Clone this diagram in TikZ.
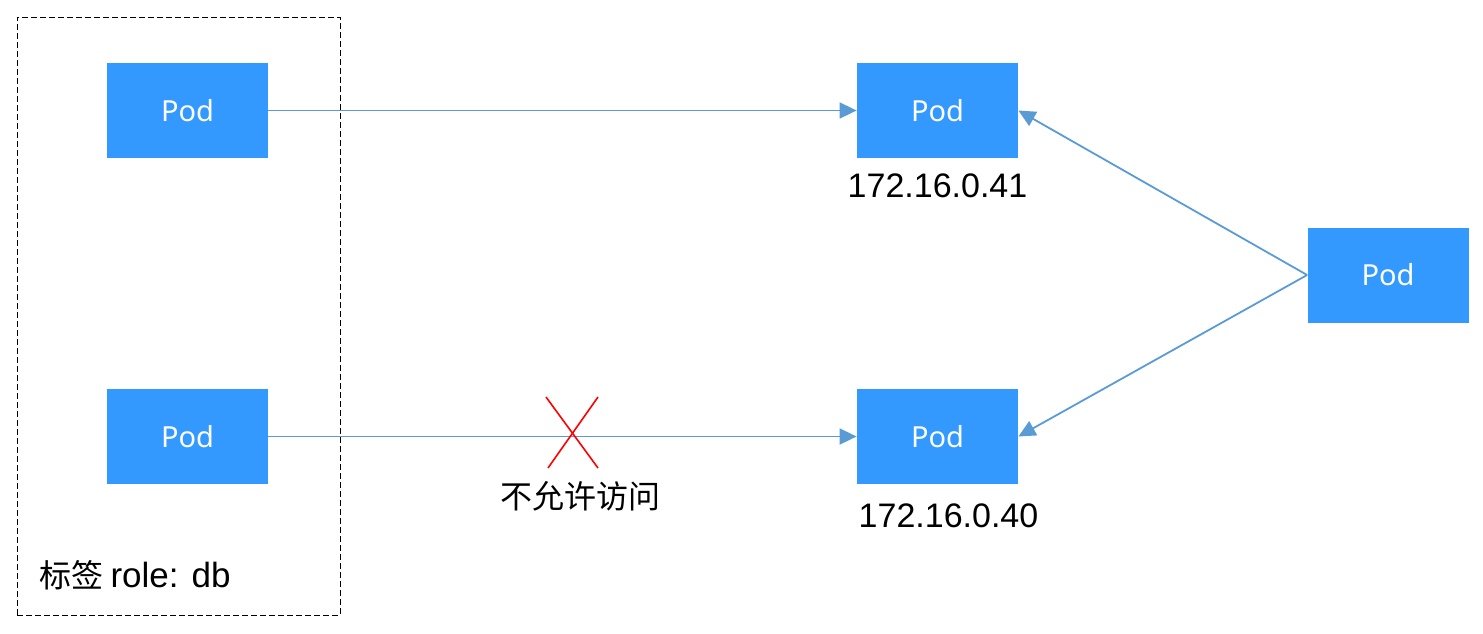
\documentclass[tikz,border=0pt]{standalone}
\usepackage{fontspec}
\setmainfont{Liberation Sans}
\newfontfamily\cjk{Noto Sans CJK SC}
\newfontfamily\podfont{Noto Sans}
\usetikzlibrary{arrows.meta}
\definecolor{podblue}{HTML}{3399FF}
\definecolor{linkblue}{HTML}{5B9BD5}
\tikzset{
  pod/.style={fill=podblue, draw=none, minimum width=80.5pt, minimum height=47.5pt, inner sep=0pt, text=white, font=\podfont\fontsize{14.5}{16}\selectfont},
  link/.style={draw=linkblue, line width=0.9pt, -{Triangle[length=8.5pt,width=8pt]}},
  lbl/.style={font=\fontsize{17}{19}\selectfont, inner sep=0pt},
  cnlbl/.style={font=\cjk\fontsize{16}{18}\selectfont, inner sep=0pt},
}
\begin{document}
\begin{tikzpicture}[x=0.5pt,y=-0.5pt]
\useasboundingbox (0,0) rectangle (1483,633);
\node[draw, dash pattern=on 3pt off 1.5pt, line width=0.5pt, minimum width=161.5pt, minimum height=299pt, inner sep=0pt] (group) at (178.5,316) {};
\node[pod] (a1) at (187.5,110.5) {Pod};
\node[pod] (a2) at (187.5,436.5) {Pod};
\node[pod] (b1) at (937.5,110.5) {Pod};
\node[pod] (b2) at (937.5,436.5) {Pod};
\node[pod] (c) at (1388,275) {Pod};
\node[lbl] (ip1) at (937.5,186) {172.16.0.41};
\node[lbl] (ip2) at (948.5,516) {172.16.0.40};
\node[cnlbl, anchor=west] (tag) at (39,575) {标签 {\fontspec{Liberation Sans}\fontsize{17.5}{19}\selectfont role: db}};
\node[cnlbl] (deny) at (580,496) {不允许访问};
\draw[link] (a1.east) -- (b1.west);
\draw[link] (a2.east) -- (b2.west);
\draw[link] (c.west) -- (b1.east);
\draw[link] (c.west) -- (b2.east);
\coordinate (x1) at (546,397);
\coordinate (x2) at (598,468);
\coordinate (x3) at (598,397);
\coordinate (x4) at (548,468);
\draw[red, line width=0.8pt] (x1) -- (x2);
\draw[red, line width=0.8pt] (x3) -- (x4);
\end{tikzpicture}
\end{document}
